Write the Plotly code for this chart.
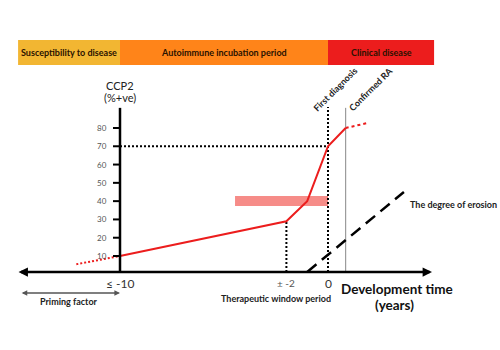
import plotly.graph_objects as go

# ---------------- data ----------------
phase_labels = ["Susceptibility to disease", "Autoimmune incubation period", "Clinical disease"]
phase_start = [-14.9, -10, 0]
phase_end = [-10, 0, 5.1]
phase_colors = ["#F2B632", "#FF8419", "#EC1D1D"]

ccp2_ticks = [10, 20, 30, 40, 50, 60, 70, 80]

ccp2_years = [-10, -2, -1, 0, 0.85]
ccp2_values = [10, 29, 40, 70, 80]
ccp2_pre_years = [-12.1, -10]
ccp2_pre_values = [5.5, 10]
ccp2_post_years = [0.85, 1.9]
ccp2_post_values = [80, 82.7]

window_years = [-4.47, 0]
window_values = [37.3, 42.8]

erosion_years = [-1, 3.65]
erosion_values = [1.3, 45]

first_diagnosis_year = 0
confirmed_ra_year = 0.85
therapeutic_year = -2
priming_years = [-14.8, -10]
axis_top = 91
x_axis_level = 1.2

FONT = "Lato"
fig = go.Figure()

# phase banner
for lab, s, e, c in zip(phase_labels, phase_start, phase_end, phase_colors):
    fig.add_shape(type="rect", x0=s, x1=e, y0=114.4, y1=128.1, xref="x", yref="y",
                  fillcolor=c, line_width=0, layer="below")
    fig.add_annotation(x=(s + e) / 2, y=121.2, text=f"<b>{lab}</b>", showarrow=False,
                       font=dict(family=FONT, size=9, color="#2a1200"))

# pink window bar
fig.add_shape(type="rect", x0=window_years[0], x1=window_years[1], y0=window_values[0],
              y1=window_values[1], fillcolor="rgba(244,120,115,0.85)", line_width=0, layer="below")

# dotted reference lines
dotted = dict(color="black", width=2, dash="2px,2px")
fig.add_trace(go.Scatter(x=[-10, first_diagnosis_year], y=[70, 70], mode="lines", line=dotted))
fig.add_trace(go.Scatter(x=[first_diagnosis_year, first_diagnosis_year], y=[x_axis_level, axis_top + 0.5],
                         mode="lines", line=dotted))
fig.add_trace(go.Scatter(x=[therapeutic_year, therapeutic_year], y=[x_axis_level, 29],
                         mode="lines", line=dotted))

# confirmed RA line
fig.add_trace(go.Scatter(x=[confirmed_ra_year, confirmed_ra_year], y=[x_axis_level, axis_top],
                         mode="lines", line=dict(color="#888888", width=1)))

# erosion dashed line
fig.add_trace(go.Scatter(x=erosion_years, y=erosion_values, mode="lines",
                         line=dict(color="black", width=2.5, dash="12px,7px")))

# CCP2 curve
fig.add_trace(go.Scatter(x=ccp2_years, y=ccp2_values, mode="lines",
                         line=dict(color="#EC1D1D", width=2)))
fig.add_trace(go.Scatter(x=ccp2_pre_years, y=ccp2_pre_values, mode="lines",
                         line=dict(color="#EC1D1D", width=2, dash="2px,2px")))
fig.add_trace(go.Scatter(x=ccp2_post_years, y=ccp2_post_values, mode="lines",
                         line=dict(color="#EC1D1D", width=2, dash="3px,3px")))

# y axis line
fig.add_trace(go.Scatter(x=[-10, -10], y=[x_axis_level, axis_top], mode="lines",
                         line=dict(color="black", width=2.5)))
for t in ccp2_ticks:
    fig.add_shape(type="line", xref="x", yref="y", xsizemode="pixel", xanchor=-10,
                  x0=-7, x1=0, y0=t, y1=t, line=dict(color="black", width=2))
    fig.add_annotation(x=-10, y=t, text=str(t), showarrow=False, xanchor="right", xshift=-11,
                       font=dict(family=FONT, size=8, color="#555555"))

# x axis double arrow
fig.add_annotation(x=5.0, y=x_axis_level, ax=-14.95, ay=x_axis_level, xref="x", yref="y",
                   axref="x", ayref="y", text="", showarrow=True, arrowhead=2, arrowsize=0.75,
                   arrowwidth=2.5, arrowcolor="black", arrowside="end+start")

# priming arrow
fig.add_annotation(x=priming_years[1], y=-10.2, ax=priming_years[0], ay=-10.2, xref="x", yref="y",
                   axref="x", ayref="y", text="", showarrow=True, arrowhead=2, arrowsize=0.8,
                   arrowwidth=1.4, arrowcolor="#555555", arrowside="end+start")

# texts
fig.add_annotation(x=-10, y=103.5, text="CCP2", showarrow=False,
                   font=dict(family=FONT, size=11, color="#222222"))
fig.add_annotation(x=-10, y=96.9, text="(%+ve)", showarrow=False,
                   font=dict(family=FONT, size=11, color="#222222"))
fig.add_annotation(x=0.34, y=100.8, text="<b>First diagnosis</b>", textangle=-45, showarrow=False,
                   font=dict(family=FONT, size=9, color="#222222"))
fig.add_annotation(x=2.02, y=101.3, text="<b>Confirmed RA</b>", textangle=-45, showarrow=False,
                   font=dict(family=FONT, size=9, color="#222222"))
fig.add_annotation(x=-10, y=-4.8, text="≤ -10", showarrow=False,
                   font=dict(family=FONT, size=12, color="#333333"))
fig.add_annotation(x=therapeutic_year, y=-4.8, text="± -2", showarrow=False,
                   font=dict(family=FONT, size=10, color="#555555"))
fig.add_annotation(x=first_diagnosis_year, y=-4.8, text="0", showarrow=False,
                   font=dict(family=FONT, size=12, color="#333333"))
fig.add_annotation(x=-2.5, y=-13.5, text="<b>Therapeutic window period</b>", showarrow=False,
                   font=dict(family=FONT, size=9, color="#222222"))
fig.add_annotation(x=3.32, y=-8.1, text="<b>Development time</b>", showarrow=False,
                   font=dict(family=FONT, size=13.5, color="#111111"))
fig.add_annotation(x=3.22, y=-16.9, text="<b>(years)</b>", showarrow=False,
                   font=dict(family=FONT, size=13.5, color="#111111"))
fig.add_annotation(x=3.85, y=38.4, text="<b>The degree of erosion</b>", showarrow=False,
                   xanchor="left", font=dict(family=FONT, size=9, color="#222222"))
fig.add_annotation(x=-12.45, y=-15.1, text="<b>Priming factor</b>", showarrow=False,
                   font=dict(family=FONT, size=9, color="#222222"))

fig.update_layout(
    width=500, height=350, margin=dict(l=0, r=0, t=0, b=0),
    paper_bgcolor="white", plot_bgcolor="white", showlegend=False,
    xaxis=dict(range=[-328 / 20.8, (500 - 328) / 20.8], visible=False, fixedrange=True),
    yaxis=dict(range=[(274.3 - 350) / 1.829, 274.3 / 1.829], visible=False, fixedrange=True),
)
fig.write_html("out.html")
